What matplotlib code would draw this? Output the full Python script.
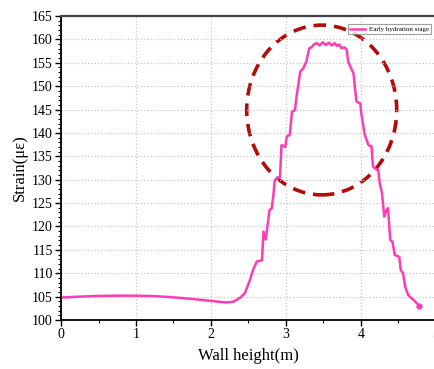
import matplotlib
matplotlib.use('Agg')
import matplotlib.pyplot as plt
import numpy as np
from matplotlib.patches import Ellipse
from matplotlib.ticker import MultipleLocator

plt.rcParams['font.family'] = ['Liberation Serif', 'DejaVu Serif']

# strain along wall height
height = [0.0, 0.25, 0.5, 0.75, 1.0, 1.25, 1.5, 1.75, 2.0, 2.1, 2.2, 2.3,
          2.39, 2.45, 2.52, 2.56, 2.61, 2.68, 2.70, 2.73, 2.78, 2.81, 2.83, 2.85,
          2.92, 2.94, 2.99, 3.01, 3.05, 3.08, 3.12, 3.14, 3.19, 3.23, 3.27, 3.31,
          3.34, 3.37, 3.41, 3.45, 3.49, 3.53, 3.57, 3.61, 3.65, 3.68, 3.71, 3.74,
          3.78, 3.81, 3.83, 3.90, 3.92, 3.94, 3.99, 4.01, 4.05, 4.10, 4.14, 4.16,
          4.21, 4.23, 4.25, 4.28, 4.31, 4.34, 4.36, 4.39, 4.42, 4.45, 4.51, 4.53,
          4.56, 4.59, 4.63, 4.70, 4.78]
strain = [104.8, 105.0, 105.15, 105.2, 105.2, 105.1, 104.85, 104.5, 104.1, 103.9, 103.75, 103.9,
          104.8, 105.7, 108.6, 110.7, 112.5, 112.8, 118.9, 117.2, 123.5, 123.9, 126.4, 129.9,
          130.6, 137.4, 137.0, 139.2, 139.6, 144.5, 144.9, 147.7, 153.1, 153.8, 155.2, 158.1,
          158.3, 158.9, 159.2, 158.7, 159.4, 158.8, 159.3, 158.7, 159.2, 158.6, 158.9, 158.1,
          158.3, 157.7, 155.2, 152.7, 149.5, 146.7, 146.3, 143.5, 139.6, 137.4, 137.1, 132.8,
          132.1, 132.1, 129.2, 127.1, 122.1, 123.5, 123.9, 117.1, 116.7, 113.9, 113.5, 110.7,
          110.0, 107.1, 105.3, 104.3, 103.0]

fig = plt.figure(figsize=(4.35, 3.69), dpi=100)
ax = fig.add_axes([61 / 435, 1 - 320 / 369, 375 / 435, 304 / 369])

ax.plot(height, strain, color='#ff3cb4', lw=1.8, label='Early hydration stage')
ax.plot(height[-1], strain[-1], 'o', color='#ff3cb4', ms=3.5)

ell = Ellipse((3.476, 144.9), 2.0, 36.3, fill=False, edgecolor='#b40a0a',
              lw=2.6, ls=(0, (3.5, 2.2)))
ax.add_patch(ell)

ax.set_xlim(0, 5)
ax.set_ylim(100, 165)
ax.xaxis.set_major_locator(MultipleLocator(1))
ax.xaxis.set_minor_locator(MultipleLocator(0.5))
ax.yaxis.set_major_locator(MultipleLocator(5))
ax.yaxis.set_minor_locator(MultipleLocator(1))
ax.tick_params(which='major', direction='out', length=4, width=1, labelsize=10, pad=2)
ax.tick_params(which='minor', direction='out', length=2, width=0.8)
ax.grid(True, which='major', color='#c8c8c8', ls=':', lw=0.9)

for s in ['left', 'bottom']:
    ax.spines[s].set_linewidth(1.3)
ax.spines['top'].set_linewidth(1.6)
ax.spines['top'].set_color('#444444')
ax.spines['right'].set_visible(False)

ax.set_xlabel('Wall height(m)', fontsize=12, labelpad=5)
ax.set_ylabel('Strain(με)', fontsize=12, labelpad=3)

leg = ax.legend(loc='upper right', bbox_to_anchor=(0.995, 0.985), fontsize=5,
                frameon=True, fancybox=False, edgecolor='#888888',
                handlelength=2.2, borderpad=0.3, handletextpad=0.5)
leg.get_frame().set_linewidth(0.8)

fig.savefig('out.png', dpi=100)
